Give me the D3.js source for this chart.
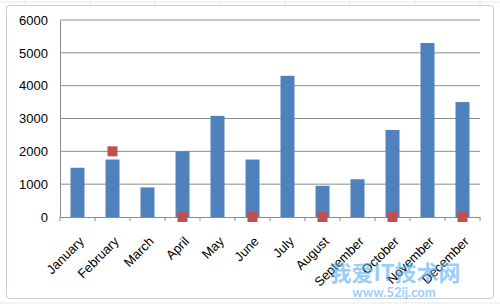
<!DOCTYPE html>
<html>
<head>
<meta charset="utf-8">
<script src="https://cdn.jsdelivr.net/npm/d3@7"></script>
<style>
  html, body { margin: 0; padding: 0; background: #fff; }
  svg { display: block; font-family: Lato, "Liberation Sans", sans-serif; }
</style>
</head>
<body>
<svg id="chart" width="500" height="307"></svg>
<script>
const months = ['January', 'February', 'March', 'April', 'May', 'June',
    'July', 'August', 'September', 'October', 'November', 'December'];
const barValues = [1500, 1750, 900, 2000, 3080, 1750, 4300, 950, 1150, 2650, 5300, 3500];
// red square markers (null = no marker)
const markerValues = [null, 2000, null, 0, null, 0, null, 0, null, 0, null, 0];
const yTicks = [0, 1000, 2000, 3000, 4000, 5000, 6000];

const svg = d3.select('#chart');
const width = 500, height = 307;
const margin = { top: 20, right: 20, bottom: 90, left: 60 };
const innerWidth = width - margin.left - margin.right;
const innerHeight = height - margin.top - margin.bottom;

// spreadsheet backdrop lines
const sheet = svg.append('g');
[2, 303].forEach(y => sheet.append('line')
    .attr('x1', 0).attr('x2', width).attr('y1', y).attr('y2', y)
    .style('stroke', '#e4e8ee'));
[25, 90, 155, 220, 285, 350, 415, 480].forEach(x => sheet.append('line')
    .attr('x1', x).attr('x2', x).attr('y1', 0).attr('y2', 5)
    .style('stroke', '#e4e8ee'));

// chart frame
svg.append('rect')
    .attr('x', 6.5).attr('y', 5.5)
    .attr('width', 487).attr('height', 293)
    .attr('rx', 3)
    .style('fill', '#fff')
    .style('stroke', '#c6ccd4');

const g = svg.append('g').attr('transform', `translate(${margin.left},${margin.top})`);

const x = d3.scaleBand()
    .domain(months)
    .range([0, innerWidth])
    .paddingInner(0.6)
    .paddingOuter(0.3);

const y = d3.scaleLinear()
    .domain([0, 6000])
    .range([innerHeight, 0]);

// gridlines
g.selectAll('line.grid')
    .data(yTicks.filter(d => d > 0))
    .enter()
    .append('line')
    .attr('class', 'grid')
    .attr('x1', 0).attr('x2', innerWidth)
    .attr('y1', d => y(d)).attr('y2', d => y(d))
    .style('stroke', '#8c8c8c')
    .style('stroke-width', 1);

// y axis
const yAxis = g.append('g')
    .call(d3.axisLeft(y).tickValues(yTicks).tickFormat(d3.format('d')).tickSize(0).tickPadding(12));
yAxis.select('.domain').style('stroke', '#8c8c8c');
yAxis.selectAll('text')
    .style('font-size', '13px')
    .style('fill', '#000');

// bars
g.selectAll('rect.bar')
    .data(barValues)
    .enter()
    .append('rect')
    .attr('class', 'bar')
    .attr('x', (d, i) => x(months[i]))
    .attr('y', d => y(d))
    .attr('width', x.bandwidth())
    .attr('height', d => innerHeight - y(d))
    .style('fill', '#4f81bd');

// x axis
const xStep = x.step();
const xAxis = g.append('g')
    .attr('transform', `translate(0,${innerHeight})`)
    .call(d3.axisBottom(x).tickSize(0).tickPadding(0));
xAxis.select('.domain').style('stroke', '#8c8c8c');
// tick marks at category boundaries
xAxis.selectAll('line.bound')
    .data(d3.range(months.length + 1))
    .enter()
    .append('line')
    .attr('class', 'bound')
    .attr('x1', i => i * xStep).attr('x2', i => i * xStep)
    .attr('y1', 0).attr('y2', 4)
    .style('stroke', '#8c8c8c');
xAxis.selectAll('.tick text')
    .attr('text-anchor', 'end')
    .attr('dy', '0.35em')
    .attr('transform', 'translate(4,22) rotate(-45)')
    .style('font-size', '13px')
    .style('fill', '#000');

// markers
const ms = 10;
g.selectAll('rect.marker')
    .data(markerValues.map((v, i) => ({ v, m: months[i] })).filter(d => d.v !== null))
    .enter()
    .append('rect')
    .attr('class', 'marker')
    .attr('x', d => x(d.m) + x.bandwidth() / 2 - ms / 2)
    .attr('y', d => y(d.v) - ms / 2)
    .attr('width', ms)
    .attr('height', ms)
    .style('fill', '#c0504d');

// watermark
svg.append('text')
    .attr('x', 395).attr('y', 281)
    .attr('text-anchor', 'middle')
    .style('font-family', '"Noto Sans CJK SC", sans-serif')
    .style('font-weight', 'bold')
    .style('font-size', '22px')
    .style('fill', '#5aaef0')
    .style('opacity', 0.6)
    .text('我爱IT技术网');
svg.append('text')
    .attr('x', 394).attr('y', 297)
    .attr('text-anchor', 'middle')
    .style('font-weight', 'bold')
    .style('font-size', '13px')
    .style('fill', '#5aaef0')
    .style('opacity', 0.6)
    .text('www.52ij.com');
</script>
</body>
</html>
